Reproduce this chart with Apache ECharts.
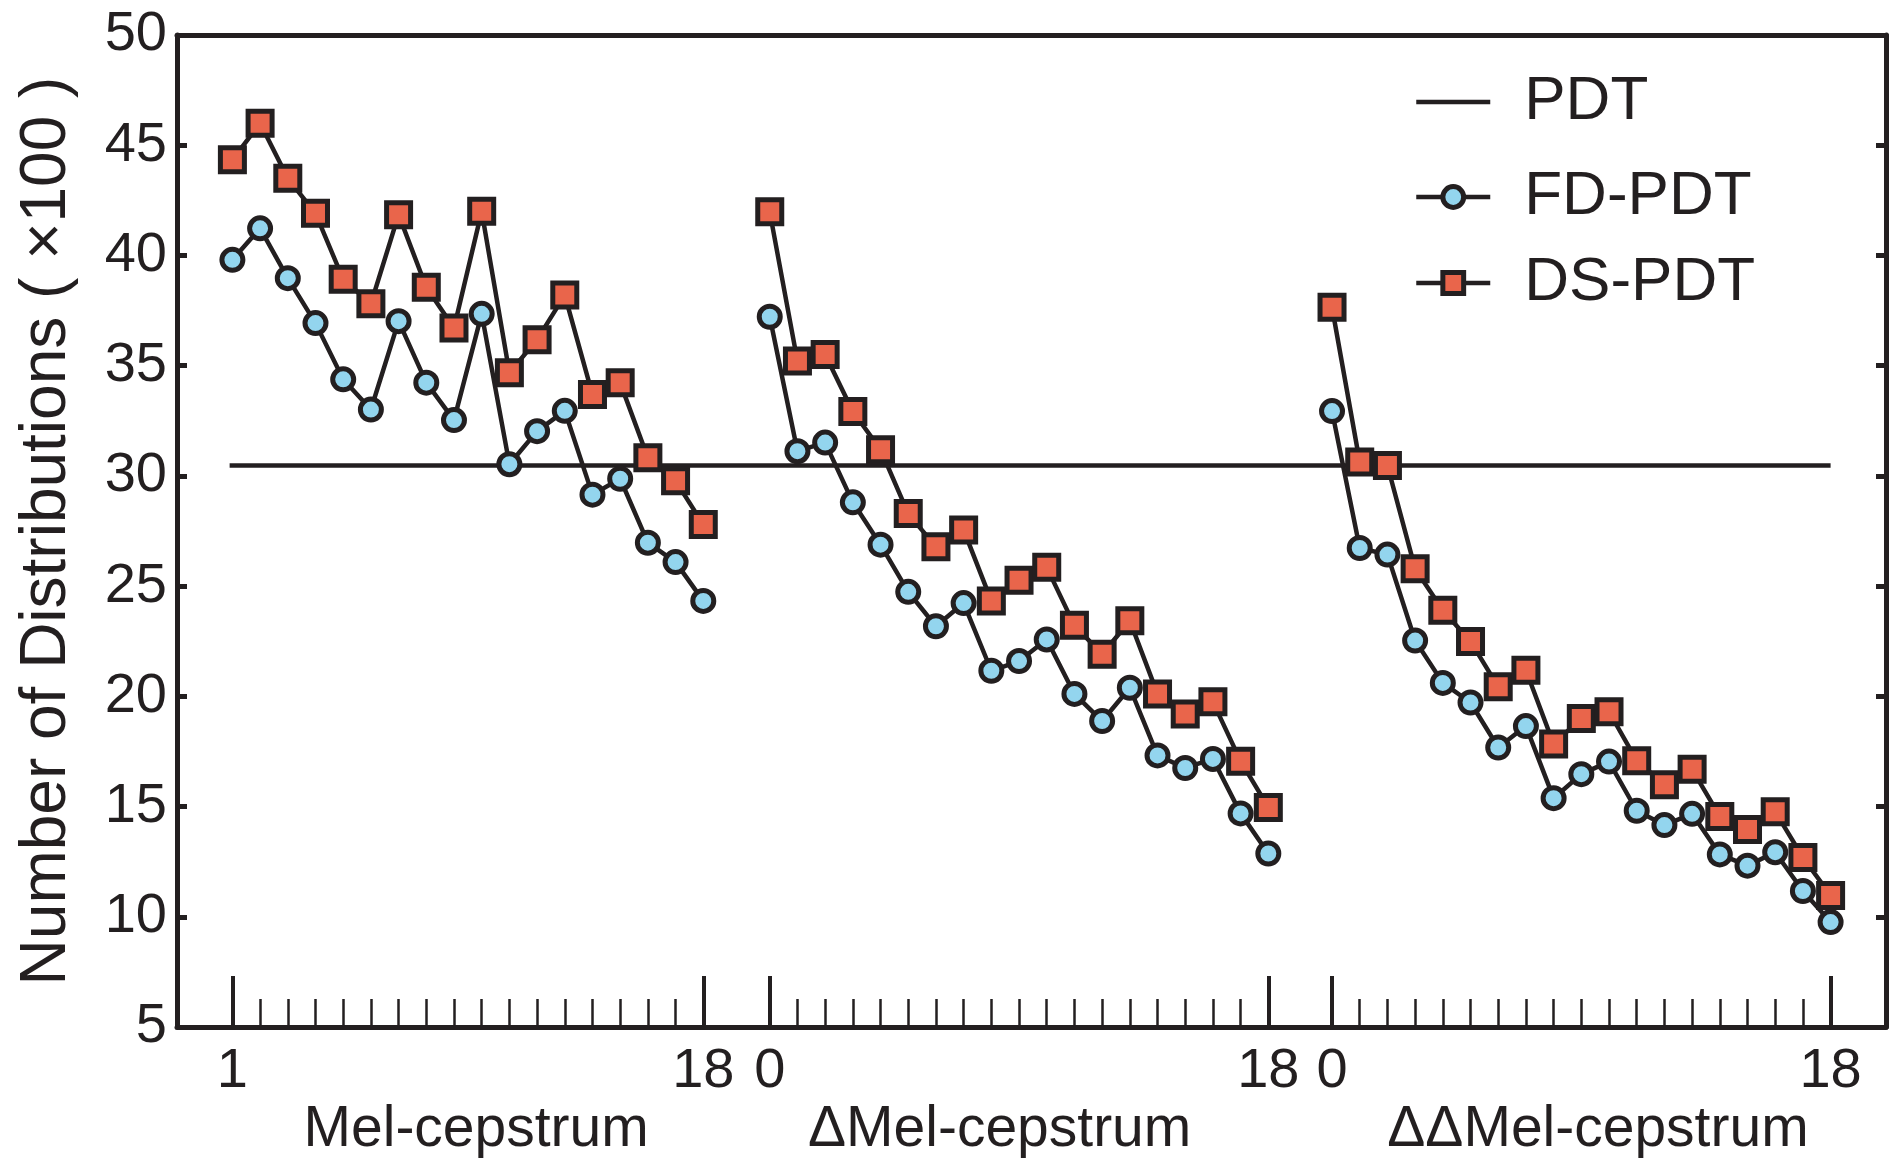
<!DOCTYPE html>
<html><head><meta charset="utf-8">
<script src="https://cdn.jsdelivr.net/npm/echarts@6/dist/echarts.min.js"></script>
<style>html,body{margin:0;padding:0;background:#fff}#c{width:1896px;height:1158px}</style>
</head><body><div id="c"></div>
<script>
// ---------------- data ----------------
const groupNames = ['Mel-cepstrum', '\u0394Mel-cepstrum', '\u0394\u0394Mel-cepstrum'];
const coefMel   = [1,2,3,4,5,6,7,8,9,10,11,12,13,14,15,16,17,18];
const coefDelta = [0,1,2,3,4,5,6,7,8,9,10,11,12,13,14,15,16,17,18];
const coefDD    = [0,1,2,3,4,5,6,7,8,9,10,11,12,13,14,15,16,17,18];

const fdMel = [39.80, 41.23, 38.97, 36.93, 34.38, 33.01, 37.02, 34.23, 32.53, 37.35, 30.53, 32.03, 32.95, 29.15, 29.87, 26.97, 26.09, 24.33];
const dsMel = [44.34, 46.00, 43.50, 41.91, 38.92, 37.81, 41.85, 38.56, 36.71, 42.00, 34.68, 36.18, 38.20, 33.69, 34.22, 30.82, 29.78, 27.79];

const fdDelta = [37.22, 31.12, 31.51, 28.80, 26.88, 24.74, 23.18, 24.23, 21.16, 21.60, 22.58, 20.11, 18.88, 20.39, 17.32, 16.75, 17.16, 14.69, 12.87];
const dsDelta = [41.98, 35.21, 35.51, 32.92, 31.19, 28.29, 26.78, 27.55, 24.33, 25.27, 25.85, 23.22, 21.91, 23.43, 20.11, 19.20, 19.75, 17.06, 14.96];

const fdDD = [32.94, 26.73, 26.43, 22.53, 20.61, 19.72, 17.68, 18.65, 15.38, 16.47, 17.04, 14.81, 14.16, 14.67, 12.83, 12.32, 12.93, 11.17, 9.76];
const dsDD = [37.65, 30.63, 30.47, 25.79, 23.91, 22.49, 20.43, 21.18, 17.84, 19.00, 19.30, 17.08, 15.99, 16.69, 14.55, 13.96, 14.77, 12.69, 10.97];

const pdtLevel = 30.47;
const yTicks = [5, 10, 15, 20, 25, 30, 35, 40, 45, 50];
const legendNames = ['PDT', 'FD-PDT', 'DS-PDT'];

// ---------------- layout (positions on a 1/10-step grid) ----------------
const FONT = '"Liberation Sans", Arial, Helvetica, sans-serif';
const INK = '#231F20';
const AXIS_FROM = -20, AXIS_TO = 597, STEP = 10;
const GROUP_START = [0, 194, 397];
const GROUP_LABEL_AT = [88, 277, 493];
const PDT_FROM = -1, PDT_TO = 577;
const LEGEND_TOPS = [71, 166, 252];

const cats = [];
for (let p = AXIS_FROM; p <= AXIS_TO; p++) cats.push(String(p));
const idx = p => p - AXIS_FROM;

const groups = [
  {coefs: coefMel, fd: fdMel, ds: dsMel},
  {coefs: coefDelta, fd: fdDelta, ds: dsDelta},
  {coefs: coefDD, fd: fdDD, ds: dsDD}
];

const majorLabel = {}, minorSet = {}, nameAt = {};
groups.forEach((g, gi) => {
  g.coefs.forEach((c, k) => {
    const i = idx(GROUP_START[gi] + k * STEP);
    if (k === 0 || k === g.coefs.length - 1) majorLabel[i] = String(c);
    else minorSet[i] = true;
  });
});
GROUP_LABEL_AT.forEach((p, gi) => { nameAt[idx(p)] = groupNames[gi]; });

const series = [{
  name: legendNames[0], type: 'line', xAxisIndex: 0, yAxisIndex: 0,
  data: [[idx(PDT_FROM), pdtLevel], [idx(PDT_TO), pdtLevel]],
  symbol: 'none', lineStyle: {color: INK, width: 4.5}, itemStyle: {color: INK},
  z: 2
}];
groups.forEach((g, gi) => {
  const xs = g.coefs.map((c, k) => idx(GROUP_START[gi] + k * STEP));
  series.push({
    name: legendNames[1], type: 'line', xAxisIndex: 0, yAxisIndex: 0,
    data: xs.map((x, k) => [x, g.fd[k]]),
    symbol: 'circle', symbolSize: 21, showAllSymbol: true,
    lineStyle: {color: INK, width: 4.5},
    itemStyle: {color: '#93D5EE', borderColor: INK, borderWidth: 5},
    z: 3
  });
  series.push({
    name: legendNames[2], type: 'line', xAxisIndex: 0, yAxisIndex: 0,
    data: xs.map((x, k) => [x, g.ds[k]]),
    symbol: 'rect', symbolSize: 24, showAllSymbol: true,
    lineStyle: {color: INK, width: 4.5},
    itemStyle: {color: '#E9654B', borderColor: INK, borderWidth: 5},
    z: 4
  });
});

const legends = legendNames.map((n, li) => ({
  orient: 'vertical', left: 1414, top: LEGEND_TOPS[li], padding: 0,
  itemWidth: 74, itemHeight: 26, itemGap: 0, selectedMode: false,
  textStyle: {fontFamily: FONT, fontSize: 62, color: INK, padding: [0, 0, 0, 29]},
  itemStyle: {borderWidth: 5},
  lineStyle: {width: 4.5},
  data: [li === 0
    ? {name: n, itemStyle: {color: 'rgba(0,0,0,0)', borderColor: 'rgba(0,0,0,0)', borderWidth: 0}}
    : n]
}));

const axisLineStyle = {color: INK, width: 5};
const chart = echarts.init(document.getElementById('c'), null, {renderer: 'canvas'});
chart.setOption({
  animation: false,
  backgroundColor: '#ffffff',
  grid: {left: 177, right: 10, top: 35, bottom: 131, containLabel: false, outerBoundsMode: 'none'},
  legend: legends,
  xAxis: [
    {
      type: 'category', data: cats, boundaryGap: false, position: 'bottom',
      axisLine: {show: true, onZero: false, lineStyle: axisLineStyle},
      axisTick: {show: true, inside: true, length: 51, interval: (i) => (i in majorLabel), lineStyle: {color: INK, width: 4}},
      axisLabel: {show: true, interval: (i) => (i in majorLabel), formatter: (v, i) => majorLabel[i] || '',
        fontFamily: FONT, fontSize: 56, color: INK, margin: 17},
      splitLine: {show: false}
    },
    {
      type: 'category', data: cats, boundaryGap: false, position: 'bottom',
      axisLine: {show: false},
      axisTick: {show: true, inside: true, length: 28, interval: (i) => !!minorSet[i], lineStyle: {color: INK, width: 2.5}},
      axisLabel: {show: false}, splitLine: {show: false}
    },
    {
      type: 'category', data: cats, boundaryGap: false, position: 'bottom',
      axisLine: {show: false}, axisTick: {show: false},
      axisLabel: {show: true, interval: (i) => (i in nameAt), formatter: (v, i) => nameAt[i] || '',
        fontFamily: FONT, fontSize: 57, color: INK, margin: 75},
      splitLine: {show: false}
    },
    {
      type: 'value', position: 'top', min: 0, max: 1,
      axisLine: {show: true, onZero: false, lineStyle: axisLineStyle},
      axisTick: {show: false}, axisLabel: {show: false}, splitLine: {show: false}
    }
  ],
  yAxis: [
    {
      type: 'value', position: 'left', min: yTicks[0], max: yTicks[yTicks.length - 1], interval: yTicks[1] - yTicks[0],
      name: 'Number of Distributions ( \u00d7100 )', nameLocation: 'middle', nameGap: 98, nameMoveOverlap: false,
      nameTextStyle: {fontFamily: FONT, fontSize: 64, color: INK},
      axisLine: {show: true, onZero: false, lineStyle: axisLineStyle},
      axisTick: {show: true, inside: true, length: 10, lineStyle: {color: INK, width: 5}},
      axisLabel: {fontFamily: FONT, fontSize: 56, color: INK, margin: 10},
      splitLine: {show: false}
    },
    {
      type: 'value', position: 'right', min: yTicks[0], max: yTicks[yTicks.length - 1], interval: yTicks[1] - yTicks[0],
      axisLine: {show: true, onZero: false, lineStyle: axisLineStyle},
      axisTick: {show: true, inside: true, length: 10, lineStyle: {color: INK, width: 5}},
      axisLabel: {show: false}, splitLine: {show: false}
    }
  ],
  series: series
});
</script>
</body></html>
